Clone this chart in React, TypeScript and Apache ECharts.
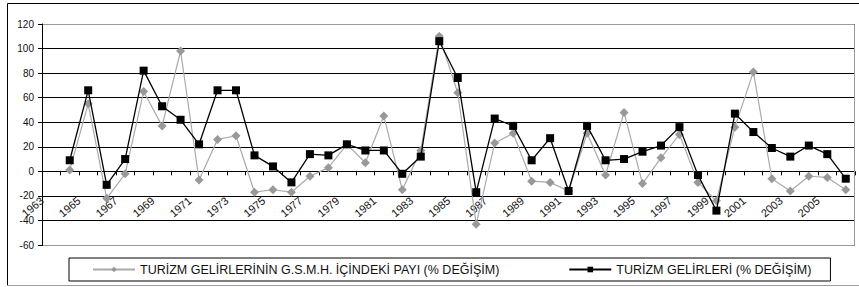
import React, { useEffect, useRef } from "react";
import * as echarts from "echarts";

const years = [
  "1963", "1964", "1965", "1966", "1967", "1968", "1969", "1970", "1971", "1972",
  "1973", "1974", "1975", "1976", "1977", "1978", "1979", "1980", "1981", "1982",
  "1983", "1984", "1985", "1986", "1987", "1988", "1989", "1990", "1991", "1992",
  "1993", "1994", "1995", "1996", "1997", "1998", "1999", "2000", "2001", "2002",
  "2003", "2004", "2005", "2006",
];

// tick labels sit on the category boundaries in the original
const tickLabels = [
  "1963", "1964", "1965", "1966", "1967", "1968", "1969", "1970", "1971", "1972",
  "1973", "1974", "1975", "1976", "1977", "1978", "1979", "1980", "1981", "1982",
  "1983", "1984", "1985", "1986", "1987", "1988", "1989", "1990", "1991", "1992",
  "1993", "1994", "1995", "1996", "1997", "1998", "1999", "2000", "2001", "2002",
  "2003", "2004", "2005", "2006", "",
];

const shareName = "TURİZM GELİRLERİNİN G.S.M.H. İÇİNDEKİ PAYI (% DEĞİŞİM)";
const revenueName = "TURİZM GELİRLERİ (% DEĞİŞİM)";

const shareValues = [
  null, 1, 55, -22, -2, 65, 37, 98, -7, 26, 29,
  -17, -15, -17, -4, 3, 22, 7, 45, -15, 17,
  110, 64, -43, 23, 31, -8, -9, -16, 31, -3,
  48, -10, 11, 30, -9, -24, 36, 81, -6, -16,
  -4, -5, -15,
];

const revenueValues = [
  null, 9, 66, -11, 10, 82, 53, 42, 22, 66, 66,
  13, 4, -9, 14, 13, 22, 17, 17, -2, 12,
  106, 76, -17, 43, 37, 9, 27, -16, 37, 9,
  10, 16, 21, 36, -3, -32, 47, 32, 19, 12,
  21, 14, -6,
];

const FONT = "'Liberation Sans', Arial, sans-serif";

export default function App() {
  const ref = useRef<HTMLDivElement>(null);

  useEffect(() => {
    if (!ref.current) return;
    const chart = echarts.init(ref.current, undefined, { renderer: "svg" });
    chart.setOption({
      animation: false,
      backgroundColor: "#ffffff",
      grid: [
        { left: 42, top: 24, width: 813, height: 221, show: false },
        { left: 42, top: 24, width: 813, height: 147, show: false },
      ],
      xAxis: [
        {
          type: "category",
          gridIndex: 0,
          data: years,
          boundaryGap: true,
          axisLine: { onZero: true, onZeroAxisIndex: 0, lineStyle: { color: "#000", width: 1 } },
          axisTick: { show: true, interval: 0, length: 4, lineStyle: { color: "#000" } },
          axisLabel: { show: false },
          splitLine: { show: false },
        },
        {
          type: "category",
          gridIndex: 1,
          data: tickLabels,
          boundaryGap: false,
          axisLine: { show: false },
          axisTick: { show: false },
          splitLine: { show: false },
          axisLabel: {
            interval: 1,
            rotate: 40,
            margin: 28,
            fontSize: 11,
            color: "#111",
            fontFamily: FONT,
          },
        },
      ],
      yAxis: [
        {
          type: "value",
          gridIndex: 0,
          min: -60,
          max: 120,
          interval: 20,
          axisLine: { show: true, lineStyle: { color: "#000" } },
          axisTick: { show: true, length: 4, lineStyle: { color: "#000" } },
          axisLabel: { fontSize: 10, color: "#111", margin: 8, fontFamily: FONT },
          splitLine: { show: true, lineStyle: { color: "#000", width: 1 } },
        },
        { type: "value", gridIndex: 1, min: 0, max: 1, show: false },
      ],
      legend: {
        left: 69,
        top: 258,
        padding: [5, 19, 5, 23],
        itemGap: 69,
        itemWidth: 42,
        itemHeight: 7,
        borderColor: "#000",
        borderWidth: 1,
        textStyle: { fontSize: 12.5, color: "#111", fontFamily: FONT },
        data: [shareName, revenueName],
      },
      series: [
        {
          name: shareName,
          type: "line",
          xAxisIndex: 0,
          yAxisIndex: 0,
          data: shareValues,
          symbol: "diamond",
          symbolSize: 9,
          itemStyle: { color: "#999999" },
          lineStyle: { color: "#aaaaaa", width: 1.2 },
          z: 2,
        },
        {
          name: revenueName,
          type: "line",
          xAxisIndex: 0,
          yAxisIndex: 0,
          data: revenueValues,
          symbol: "rect",
          symbolSize: 8,
          itemStyle: { color: "#000000" },
          lineStyle: { color: "#000000", width: 1.3 },
          z: 3,
        },
      ],
      graphic: [
        {
          type: "polyline",
          z: 100,
          silent: true,
          shape: { points: [[43, 24.5], [854.5, 24.5], [854.5, 245.5], [43, 245.5]] },
          style: { stroke: "#9a9a9a", fill: "none", lineWidth: 1 },
        },
        {
          type: "polyline",
          z: 100,
          silent: true,
          shape: { points: [[7.5, 286], [7.5, 3.5], [870, 3.5]] },
          style: { stroke: "#000", fill: "none", lineWidth: 1 },
        },
        {
          type: "line",
          z: 100,
          silent: true,
          shape: { x1: 7, y1: 285.5, x2: 870, y2: 285.5 },
          style: { stroke: "#a0a0a0", lineWidth: 1 },
        },
      ],
    });
    return () => chart.dispose();
  }, []);

  return (
    <div
      ref={ref}
      style={{ position: "absolute", left: 0, top: 0, width: 859, height: 287 }}
    />
  );
}
